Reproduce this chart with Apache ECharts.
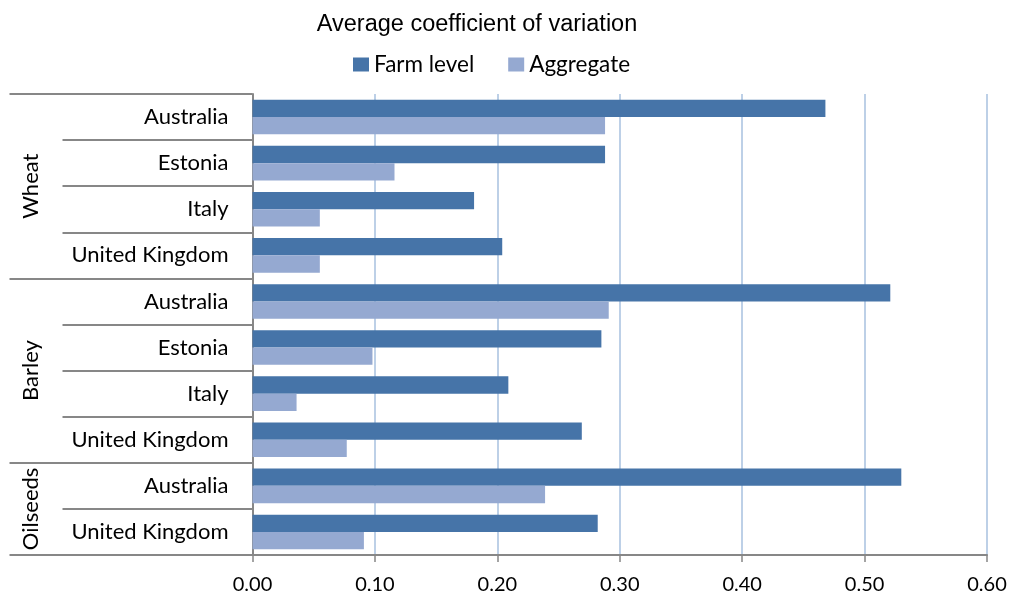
<!DOCTYPE html>
<html>
<head>
<meta charset="utf-8">
<script src="https://cdn.jsdelivr.net/npm/echarts@6/dist/echarts.min.js"></script>
<style>html,body{margin:0;padding:0;background:#fff;}#c{width:1011px;height:599px;}</style>
</head>
<body>
<div id="c"></div>
<script>
// ---- data ----
const categories = ['Australia','Estonia','Italy','United Kingdom','Australia','Estonia','Italy','United Kingdom','Australia','United Kingdom'];
const groupLabels = ['', '', 'Wheat', '', '', '', 'Barley', '', '', 'Oilseeds', ''];
const groupBoundaries = [0, 4, 8, 10];
const farmLevel = [0.468, 0.288, 0.181, 0.204, 0.521, 0.285, 0.209, 0.269, 0.530, 0.282];
const aggregate = [0.288, 0.116, 0.055, 0.055, 0.291, 0.098, 0.036, 0.077, 0.239, 0.091];
const xTicks = { min: 0, max: 0.6, interval: 0.1 };

const labelFont = 'Lato, "Noto Sans", sans-serif';
const chart = echarts.init(document.getElementById('c'), null, { renderer: 'canvas' });
chart.setOption({
  animation: false,
  backgroundColor: '#ffffff',
  title: {
    text: 'Average coefficient of variation',
    left: 472, textAlign: 'center', top: 8,
    textStyle: { fontFamily: '"Liberation Sans", Arial, sans-serif', fontSize: 23.5, fontWeight: 'normal', color: '#000' }
  },
  legend: {
    top: 48, left: 348,
    itemWidth: 16, itemHeight: 14, itemGap: 34,
    icon: 'rect',
    textStyle: { fontFamily: labelFont, fontSize: 22.5, color: '#000' },
    data: ['Farm level', 'Aggregate']
  },
  grid: { left: 252.5, right: 24, top: 94, bottom: 44, containLabel: false },
  xAxis: {
    type: 'value', min: xTicks.min, max: xTicks.max, interval: xTicks.interval,
    axisLine: { show: true, lineStyle: { color: '#878787', width: 2 } },
    axisTick: { show: true, length: 7, lineStyle: { color: '#878787', width: 1.5 } },
    splitLine: { show: true, lineStyle: { color: '#BDD0E7', width: 2 } },
    axisLabel: { margin: 20, fontFamily: labelFont, fontSize: 20, color: '#000', formatter: v => v.toFixed(2) }
  },
  yAxis: [{
    type: 'category', inverse: true, data: categories,
    axisLine: { show: true, lineStyle: { color: '#878787', width: 2 } },
    axisTick: { show: true, length: 190, lineStyle: { color: '#878787', width: 2 } },
    axisLabel: { margin: 24, fontFamily: labelFont, fontSize: 22, color: '#000' },
    splitLine: { show: false }
  }, {
    type: 'category', inverse: true, boundaryGap: false, data: groupLabels, position: 'left',
    axisLine: { show: false },
    axisTick: { show: true, length: 243, interval: (i) => groupBoundaries.includes(i), lineStyle: { color: '#878787', width: 2 } },
    axisLabel: { show: true, interval: 0, rotate: 90, margin: 211, fontFamily: labelFont, fontSize: 22, color: '#000' },
    splitLine: { show: false }
  }],
  series: [{
    name: 'Farm level', type: 'bar', yAxisIndex: 0, data: farmLevel,
    itemStyle: { color: '#4674A8' }, barGap: '0%', barCategoryGap: '25%'
  }, {
    name: 'Aggregate', type: 'bar', yAxisIndex: 0, data: aggregate,
    itemStyle: { color: '#95A9D1' }, barGap: '0%', barCategoryGap: '25%'
  }]
});
</script>
</body>
</html>
